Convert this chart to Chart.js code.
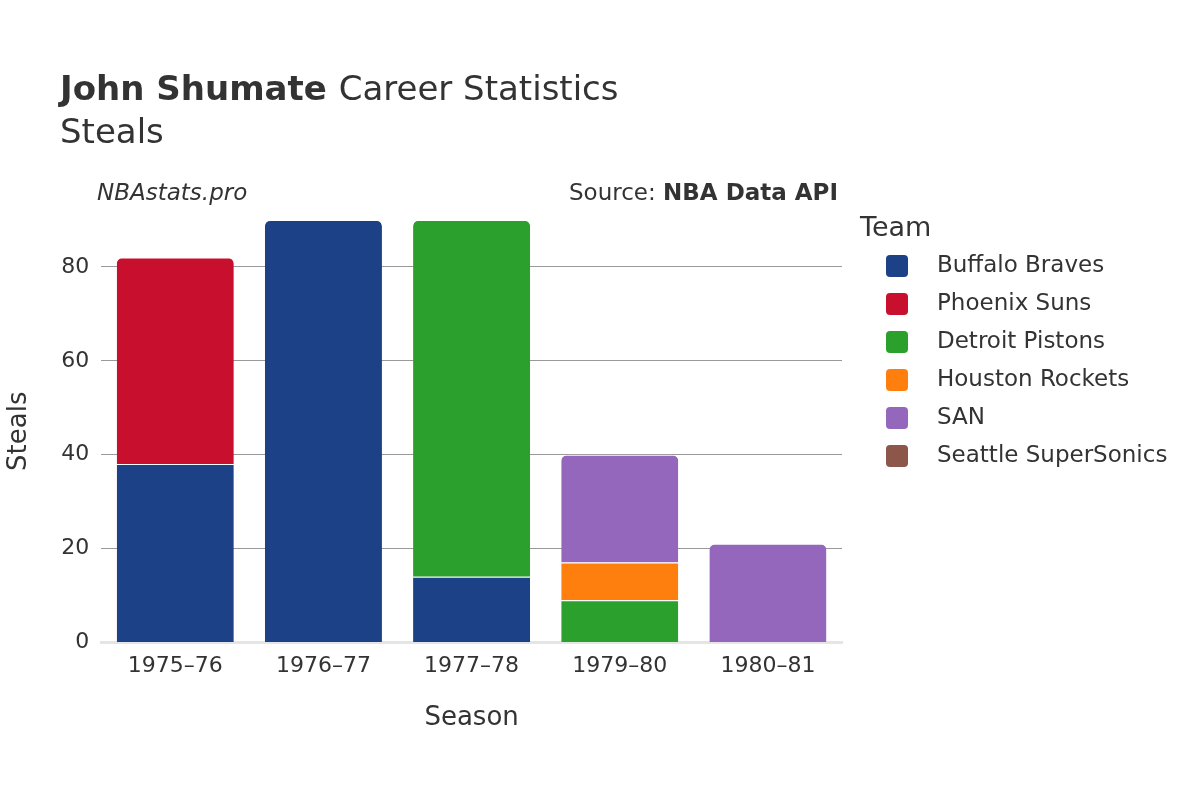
<!DOCTYPE html>
<html>
<head>
<meta charset="utf-8">
<script src="https://cdn.jsdelivr.net/npm/chart.js@4/dist/chart.umd.min.js"></script>
<style>
  body { margin: 0; background: #fff; }
  #wrap { width: 1200px; height: 800px; }
</style>
</head>
<body>
<div id="wrap"><canvas id="chart" width="1200" height="800"></canvas></div>
<script>
// Season labels and steals per team
const seasons = ['1975–76', '1976–77', '1977–78', '1979–80', '1980–81'];
const teams = ['Buffalo Braves', 'Phoenix Suns', 'Detroit Pistons', 'Houston Rockets', 'SAN', 'Seattle SuperSonics'];
const teamColors = ['#1c4186', '#c8102e', '#2ca02c', '#ff7f0e', '#9467bd', '#8c564b'];
const buffaloBraves = [38, 90, 14, 0, 0];
const phoenixSuns = [44, 0, 0, 0, 0];
const detroitPistons = [0, 0, 76, 9, 0];
const houstonRockets = [0, 0, 0, 8, 0];
const san = [0, 0, 0, 23, 21];
const seattleSuperSonics = [0, 0, 0, 0, 0];
const yTicks = [0, 20, 40, 60, 80];

const series = [buffaloBraves, phoenixSuns, detroitPistons, houstonRockets, san, seattleSuperSonics];
const font = "'DejaVu Sans', 'Noto Sans', sans-serif";

// round only the top segment of each stack
function topRadius(ctx) {
  const i = ctx.dataIndex, d = ctx.datasetIndex;
  for (let k = series.length - 1; k > d; k--) {
    if (series[k][i] > 0) return 0;
  }
  return { topLeft: 6, topRight: 6, bottomLeft: 0, bottomRight: 0 };
}

const decor = {
  id: 'decor',
  afterDraw(chart) {
    const c = chart.ctx;
    c.save();
    c.fillStyle = '#333';
    c.textBaseline = 'alphabetic';
    c.font = 'bold 34px ' + font;
    c.fillText('John Shumate', 60, 100);
    const w = c.measureText('John Shumate ').width;
    c.font = '34px ' + font;
    c.fillText('Career Statistics', 60 + w, 100);
    c.fillText('Steals', 60, 143);

    c.font = 'italic 23px ' + font;
    c.fillText('NBAstats.pro', 97, 200);
    c.textAlign = 'right';
    c.font = 'bold 23px ' + font;
    c.fillText('NBA Data API', 838, 200);
    const bw = c.measureText('NBA Data API').width;
    c.font = '23px ' + font;
    c.fillText('Source: ', 838 - bw, 200);

    c.textAlign = 'left';
    c.font = '27px ' + font;
    c.fillText('Team', 860, 236);
    c.font = '23px ' + font;
    c.textBaseline = 'middle';
    teams.forEach((t, k) => {
      const y = 266 + k * 38;
      c.fillStyle = teamColors[k];
      c.beginPath();
      c.roundRect(886, y - 11, 22, 22, 4);
      c.fill();
      c.fillStyle = '#333';
      c.fillText(t, 937, y);
    });
    c.restore();
  }
};

new Chart(document.getElementById('chart').getContext('2d'), {
  type: 'bar',
  data: {
    labels: seasons,
    datasets: teams.map((t, k) => ({
      label: t,
      data: series[k],
      backgroundColor: teamColors[k],
      borderColor: '#fff',
      borderWidth: { top: 1, bottom: 0, left: 0, right: 0 },
      borderSkipped: false,
      borderRadius: topRadius,
      barPercentage: 0.79,
      categoryPercentage: 1
    }))
  },
  options: {
    responsive: false,
    animation: false,
    layout: { padding: { top: 220, right: 358, left: 0, bottom: 62 } },
    plugins: { legend: { display: false }, tooltip: { enabled: false } },
    scales: {
      x: {
        stacked: true,
        grid: { display: false },
        border: { color: '#e5e5e5', width: 3 },
        ticks: { color: '#333', font: { family: font, size: 22 } },
        title: { display: true, text: 'Season', color: '#333', font: { family: font, size: 26 }, padding: { top: 20 } }
      },
      y: {
        stacked: true,
        min: 0, max: 90,
        afterBuildTicks: axis => { axis.ticks = yTicks.map(v => ({ value: v })); },
        grid: { color: '#999', drawTicks: false },
        border: { display: false },
        ticks: { color: '#333', padding: 12, font: { family: font, size: 22 } },
        title: { display: true, text: 'Steals', color: '#333', font: { family: font, size: 26 }, padding: { bottom: 14 } }
      }
    }
  },
  plugins: [decor]
});
</script>
</body>
</html>
